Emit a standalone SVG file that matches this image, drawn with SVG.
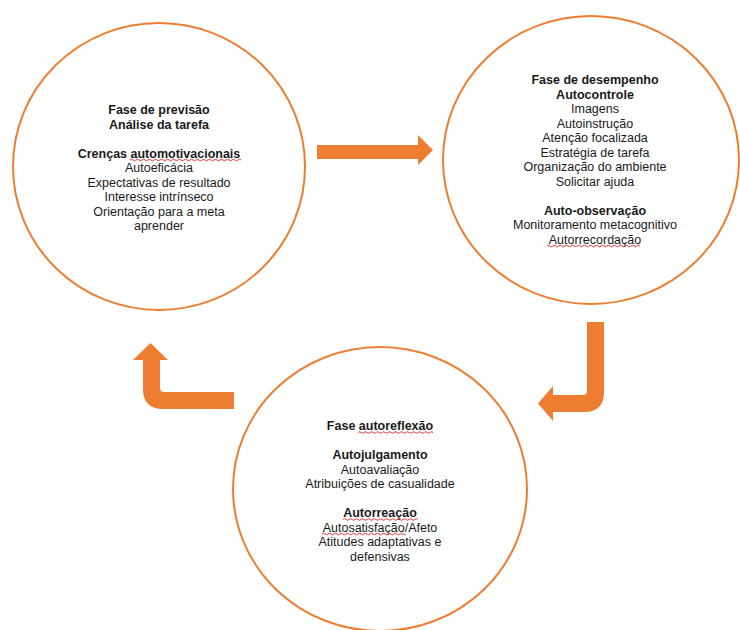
<svg xmlns="http://www.w3.org/2000/svg" width="740" height="630" viewBox="0 0 740 630">
<style>
.ring{fill:#fff;stroke:#ED7D31;stroke-width:2}
.t{font-family:"Liberation Sans",Arial,sans-serif;font-size:12.5px;fill:#1a1a1a;text-anchor:middle}
.b{font-weight:bold}
.arrow{fill:#ED7D31}
.wave{fill:none;stroke:#e02020;stroke-width:0.9}
</style>
<rect width="740" height="630" fill="#fff"/>
<g id="connectors">
<path id="arrow-right" class="arrow" d="M317 145 L418 145 L418 135 L433 150 L418 165 L418 159 L317 159 Z"/>
<path id="arrow-down-left" class="arrow" d="M587 322 L604 322 L604 392 Q604 412 584 412 L553 412 L553 421 L538 403.5 L553 386 L553 395 L583 395 Q587 395 587 391 Z"/>
<path id="arrow-up-left" class="arrow" d="M234 392 L164 392 Q160 392 160 388 L160 360 L168 360 L150.5 343 L133 360 L143 360 L143 389 Q143 409 163 409 L234 409 Z"/>
</g>
<g id="node-previsao">
<ellipse class="ring" cx="159" cy="166.5" rx="146" ry="143.5"/>
<text class="t b" x="159" y="114">Fase de previsão</text>
<text class="t b" x="159" y="128.5">Análise da tarefa</text>
<text class="t b" x="159" y="157.5">Crenças automotivacionais</text>
<text class="t" x="159" y="172">Autoeficácia</text>
<text class="t" x="159" y="186.5">Expectativas de resultado</text>
<text class="t" x="159" y="201">Interesse intrínseco</text>
<text class="t" x="159" y="215.5">Orientação para a meta</text>
<text class="t" x="159" y="230">aprender</text>
<path class="wave" d="M130 160 q1.5 -1.6 3 0 t3 0 t3 0 t3 0 t3 0 t3 0 t3 0 t3 0 t3 0 t3 0 t3 0 t3 0 t3 0 t3 0 t3 0 t3 0 t3 0 t3 0 t3 0 t3 0 t3 0 t3 0 t3 0 t3 0 t3 0 t3 0 t3 0 t3 0 t3 0 t3 0 t3 0 t3 0 t3 0 t3 0 t3 0 t3 0 t3 0"/>
</g>
<g id="node-desempenho">
<ellipse class="ring" cx="591" cy="160" rx="148" ry="144"/>
<text class="t b" x="595" y="84">Fase de desempenho</text>
<text class="t b" x="595" y="98.5">Autocontrole</text>
<text class="t" x="595" y="113">Imagens</text>
<text class="t" x="595" y="127.5">Autoinstrução</text>
<text class="t" x="595" y="142">Atenção focalizada</text>
<text class="t" x="595" y="156.5">Estratégia de tarefa</text>
<text class="t" x="595" y="171">Organização do ambiente</text>
<text class="t" x="595" y="185.5">Solicitar ajuda</text>
<text class="t b" x="595" y="214.5">Auto-observação</text>
<text class="t" x="595" y="229">Monitoramento metacognitivo</text>
<text class="t" x="595" y="243.5">Autorrecordação</text>
<path class="wave" d="M547 246 q1.5 -1.6 3 0 t3 0 t3 0 t3 0 t3 0 t3 0 t3 0 t3 0 t3 0 t3 0 t3 0 t3 0 t3 0 t3 0 t3 0 t3 0 t3 0 t3 0 t3 0 t3 0 t3 0 t3 0 t3 0 t3 0 t3 0 t3 0 t3 0 t3 0 t3 0 t3 0 t3 0"/>
</g>
<g id="node-autorreflexao">
<ellipse class="ring" cx="380" cy="489" rx="147" ry="142"/>
<text class="t b" x="380" y="430">Fase autoreflexão</text>
<text class="t b" x="380" y="459">Autojulgamento</text>
<text class="t" x="380" y="473.5">Autoavaliação</text>
<text class="t" x="380" y="488">Atribuições de casualidade</text>
<text class="t b" x="380" y="517">Autorreação</text>
<text class="t" x="380" y="531.5">Autosatisfação/Afeto</text>
<text class="t" x="380" y="546">Atitudes adaptativas e</text>
<text class="t" x="380" y="560.5">defensivas</text>
<path class="wave" d="M358 432.5 q1.5 -1.6 3 0 t3 0 t3 0 t3 0 t3 0 t3 0 t3 0 t3 0 t3 0 t3 0 t3 0 t3 0 t3 0 t3 0 t3 0 t3 0 t3 0 t3 0 t3 0 t3 0 t3 0 t3 0 t3 0 t3 0 t3 0"/>
<path class="wave" d="M343 519.5 q1.5 -1.6 3 0 t3 0 t3 0 t3 0 t3 0 t3 0 t3 0 t3 0 t3 0 t3 0 t3 0 t3 0 t3 0 t3 0 t3 0 t3 0 t3 0 t3 0 t3 0 t3 0 t3 0 t3 0 t3 0 t3 0 t3 0"/>
<path class="wave" d="M322 534 q1.5 -1.6 3 0 t3 0 t3 0 t3 0 t3 0 t3 0 t3 0 t3 0 t3 0 t3 0 t3 0 t3 0 t3 0 t3 0 t3 0 t3 0 t3 0 t3 0 t3 0 t3 0 t3 0 t3 0 t3 0 t3 0 t3 0 t3 0 t3 0 t3 0"/>
</g>
</svg>
